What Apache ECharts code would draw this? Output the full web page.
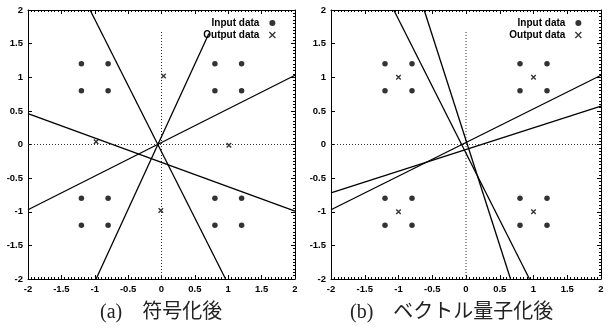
<!DOCTYPE html>
<html>
<head>
<meta charset="utf-8">
<script src="https://cdn.jsdelivr.net/npm/echarts@6/dist/echarts.min.js"></script>
<style>
html,body{margin:0;padding:0;background:#fff;}
#chart{width:609px;height:331px;}
</style>
</head>
<body>
<div id="chart"></div>
<script>
// ---- data ----
const inputData = [
  [-1.2, 1.2], [-0.8, 1.2], [-1.2, 0.8], [-0.8, 0.8],
  [0.8, 1.2], [1.2, 1.2], [0.8, 0.8], [1.2, 0.8],
  [-1.2, -0.8], [-0.8, -0.8], [-1.2, -1.2], [-0.8, -1.2],
  [0.8, -0.8], [1.2, -0.8], [0.8, -1.2], [1.2, -1.2]
];
const outputLeft = [[0.03, 1.02], [-0.98, 0.04], [1.01, -0.01], [-0.01, -0.98]];
const outputRight = [[-1, 1], [1, 1], [-1, -1], [1, -1]];

const leftLines = [
  [[-1.07, 2], [0.96, -2]],
  [[-0.98, -2], [0.71, 1.65]],
  [[-2, -0.97], [2, 1.03]],
  [[-2, 0.46], [2, -0.99]]
];
const rightLines = [
  [[-1.07, 2], [0.94, -2]],
  [[-0.62, 2], [0.66, -2]],
  [[-2, -0.97], [2, 1.03]],
  [[-2, -0.72], [2, 0.57]]
];
const zeroX = [[-2, 0], [2, 0]];
const zeroY = [[0, -2], [0, 1.7]];

const legendNames = ['Input data', 'Output data'];
const captions = ['(a)\u3000符号化後', '(b)\u3000ベクトル量子化後'];

// ---- styling helpers ----
const crossPath = 'path://M0,0L10,10M10,0L0,10';
const labelFont = {fontFamily: '"Liberation Sans", Arial, sans-serif', fontWeight: 'bold', fontSize: 9.5, color: '#000'};

function xAx(gi, pos, showLabel) {
  return {
    type: 'value', gridIndex: gi, position: pos, min: -2, max: 2, interval: 0.5,
    axisLine: {show: true, onZero: false, lineStyle: {color: '#000', width: 1}},
    axisTick: {show: true, inside: true, length: 4, lineStyle: {color: '#000', width: 1}},
    minorTick: {show: true, splitNumber: 10, length: 2, lineStyle: {color: '#000', width: 1}},
    axisLabel: Object.assign({show: showLabel, margin: 5}, labelFont),
    splitLine: {show: false}
  };
}
function yAx(gi, pos, showLabel, minor) {
  return {
    type: 'value', gridIndex: gi, position: pos, min: -2, max: 2, interval: 0.5,
    axisLine: {show: true, onZero: false, lineStyle: {color: '#000', width: 1}},
    axisTick: {show: true, inside: true, length: 4, lineStyle: {color: '#000', width: 1}},
    minorTick: {show: minor, splitNumber: 10, length: 2, lineStyle: {color: '#000', width: 1}},
    axisLabel: Object.assign({show: showLabel, margin: 5}, labelFont),
    splitLine: {show: false}
  };
}

function lineSeries(gi, data, dotted) {
  return {
    type: 'line', xAxisIndex: gi * 2, yAxisIndex: gi * 2, data: data,
    symbol: 'none', silent: true, animation: false,
    lineStyle: dotted ? {color: '#333', width: 1, type: [1, 2]} : {color: '#000', width: 1.3}
  };
}

const series = [];
[leftLines, rightLines].forEach((ls, gi) => {
  series.push(lineSeries(gi, zeroX, true));
  series.push(lineSeries(gi, zeroY, true));
  ls.forEach(l => series.push(lineSeries(gi, l, false)));
  series.push({
    name: legendNames[0], type: 'scatter', xAxisIndex: gi * 2, yAxisIndex: gi * 2,
    data: inputData, symbol: 'circle', symbolSize: 5.5, animation: false,
    itemStyle: {color: '#000'}
  });
  series.push({
    name: legendNames[1], type: 'scatter', xAxisIndex: gi * 2, yAxisIndex: gi * 2,
    data: gi === 0 ? outputLeft : outputRight, symbol: crossPath, symbolSize: 4.5, animation: false,
    itemStyle: {color: 'rgba(0,0,0,0)', borderColor: '#000', borderWidth: 1.4}
  });
});

function legend(rightPos) {
  return {
    orient: 'vertical', right: rightPos, top: 18, align: 'right',
    itemWidth: 8, itemHeight: 6, itemGap: 2, padding: 0,
    selectedMode: false,
    textStyle: {fontFamily: '"Liberation Sans", Arial, sans-serif', fontWeight: 'bold', fontSize: 10, color: '#000', padding: [0, 4, 0, 0]},
    data: [
      {name: legendNames[0], icon: 'circle', itemStyle: {color: '#000'}},
      {name: legendNames[1], icon: crossPath, itemStyle: {color: 'rgba(0,0,0,0)', borderColor: '#000', borderWidth: 1.3}}
    ]
  };
}

const captionFont = '"Liberation Serif", "Noto Sans CJK JP", serif';

const option = {
  backgroundColor: '#fff',
  animation: false,
  grid: [
    {left: 28, top: 10, width: 267, height: 269},
    {left: 331, top: 10, width: 270, height: 269}
  ],
  xAxis: [xAx(0, 'bottom', true), xAx(0, 'top', false), xAx(1, 'bottom', true), xAx(1, 'top', false)],
  yAxis: [yAx(0, 'left', true, false), yAx(0, 'right', false, true), yAx(1, 'left', true, false), yAx(1, 'right', false, true)],
  legend: [legend(333), legend(27)],
  title: [
    {text: captions[0], left: 100, top: 303, padding: 0,
     textStyle: {fontFamily: captionFont, fontWeight: 'normal', fontSize: 20, color: '#222'}},
    {text: captions[1], left: 350, top: 303, padding: 0,
     textStyle: {fontFamily: captionFont, fontWeight: 'normal', fontSize: 20, color: '#222'}}
  ],
  series: series
};

const chart = echarts.init(document.getElementById('chart'), null, {renderer: 'canvas'});
chart.setOption(option);
</script>
</body>
</html>
